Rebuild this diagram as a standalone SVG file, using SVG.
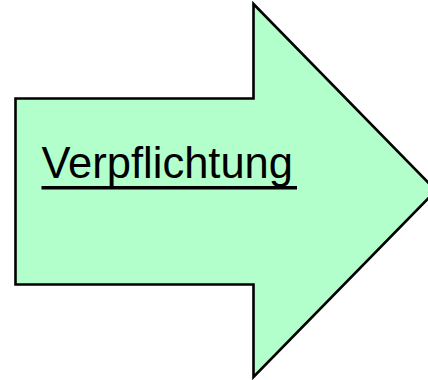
<svg xmlns="http://www.w3.org/2000/svg" width="428" height="380" viewBox="0 0 428 380">
<style>
.shape{fill:#B3FFCC;stroke:#000;stroke-width:2.6;stroke-linejoin:miter}
.lbl{font-family:"Liberation Sans",Arial,sans-serif;font-size:43.5px;fill:#000}
.ul{stroke:#000;stroke-width:3.4}
</style>
<g id="arrow">
<polygon class="shape" points="15.5,98.5 253.5,98.5 253.5,4 436,190.5 253.5,377 253.5,284.5 15.5,284.5"/>
<text class="lbl" x="41.5" y="178">Verpflichtung</text>
<line class="ul" x1="41.5" y1="187.8" x2="297" y2="187.8"/>
</g>
</svg>
